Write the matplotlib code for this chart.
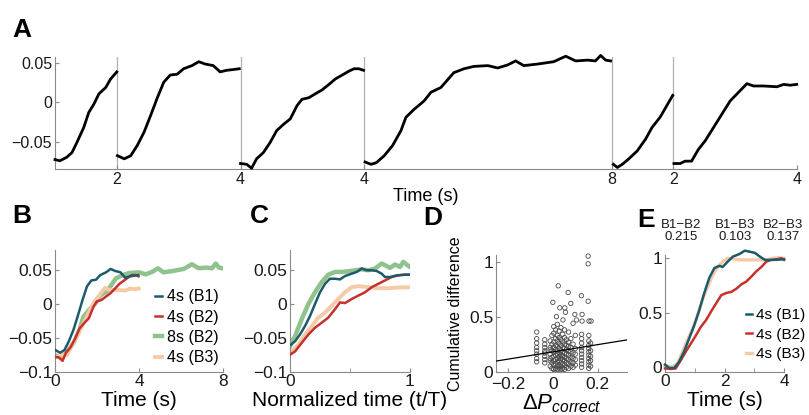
import numpy as np
import matplotlib
matplotlib.use('Agg')
import matplotlib.pyplot as plt

plt.rcParams['font.family'] = ['Liberation Sans', 'DejaVu Sans']
plt.rcParams['mathtext.fontset'] = 'custom'
plt.rcParams['mathtext.rm'] = 'Liberation Sans'
plt.rcParams['mathtext.it'] = 'Liberation Sans:italic'

# ---------------- data ----------------
# panel A / B : time courses per block and duration
b1_2s_t = [0, 0.16, 0.38, 0.55, 0.71, 0.93, 1.09, 1.26, 1.42, 1.64, 1.80, 2.0]
b1_2s_v = [-0.073, -0.0745, -0.070, -0.064, -0.051, -0.032, -0.013, -0.002, 0.011, 0.019, 0.030, 0.039]

b1_4s_t = [0.02, 0.24, 0.45, 0.66, 0.88, 1.09, 1.31, 1.52, 1.73, 1.95, 2.16, 2.43, 2.65, 2.86,
           3.12, 3.34, 3.55, 3.77, 3.96]
b1_4s_v = [-0.068, -0.072, -0.068, -0.055, -0.038, -0.017, 0.006, 0.026, 0.035, 0.036, 0.043,
           0.047, 0.052, 0.049, 0.047, 0.039, 0.041, 0.042, 0.043]

b2_4s_t = [0, 0.2, 0.36, 0.52, 0.74, 0.96, 1.17, 1.39, 1.61, 1.83, 1.99, 2.21, 2.42, 2.64, 2.86,
           3.07, 3.29, 3.51, 3.67, 3.83, 3.98]
b2_4s_v = [-0.078, -0.079, -0.084, -0.072, -0.064, -0.051, -0.036, -0.028, -0.021, -0.004, 0.004,
           0.006, 0.011, 0.016, 0.023, 0.030, 0.035, 0.040, 0.043, 0.043, 0.041]

b2_8s_t = [0.03, 0.22, 0.39, 0.65, 0.92, 1.19, 1.35, 1.61, 1.94, 2.16, 2.48, 2.90, 3.23, 3.55,
           4.0, 4.32, 4.65, 4.90, 5.16, 5.61, 6.13, 6.52, 6.84, 7.23, 7.48, 7.65, 7.81, 7.97]
b2_8s_v = [-0.076, -0.079, -0.077, -0.068, -0.055, -0.036, -0.019, -0.009, 0.002, 0.013, 0.019,
           0.038, 0.043, 0.046, 0.047, 0.044, 0.048, 0.053, 0.047, 0.049, 0.052, 0.059, 0.053,
           0.054, 0.053, 0.060, 0.054, 0.053]

b3_2s_t = [0.06, 0.19, 0.35, 0.56, 0.83, 1.10, 1.31, 1.57, 1.79, 1.98]
b3_2s_v = [-0.079, -0.083, -0.079, -0.072, -0.062, -0.047, -0.032, -0.019, -0.004, 0.009]

b3_4s_t = [0.02, 0.22, 0.38, 0.59, 0.81, 1.03, 1.30, 1.57, 1.84, 2.11, 2.38, 2.59, 2.92, 3.35,
           3.57, 3.78, 3.99]
b3_4s_v = [-0.078, -0.078, -0.075, -0.075, -0.060, -0.049, -0.032, -0.015, 0.002, 0.013, 0.024,
           0.021, 0.021, 0.020, 0.023, 0.022, 0.023]

durations = [2, 4, 4, 8, 2, 4]

# panel C : normalized time courses
c_b1_t = [0.008, 0.042, 0.083, 0.125, 0.167, 0.208, 0.25, 0.292, 0.333, 0.375, 0.417, 0.458,
          0.514, 0.556, 0.597, 0.639, 0.681, 0.722, 0.764, 0.792, 0.833, 0.889, 0.958, 0.992]
c_b1_v = [-0.06, -0.055, -0.045, -0.0325, -0.0175, 0, 0.0175, 0.03, 0.0375, 0.0375, 0.0365,
          0.0415, 0.045, 0.0475, 0.0525, 0.05, 0.05, 0.049, 0.045, 0.04, 0.04, 0.0425, 0.0435, 0.0435]
c_b2_8_t = [0, 0.042, 0.097, 0.153, 0.208, 0.264, 0.319, 0.375, 0.431, 0.486, 0.542, 0.597,
            0.653, 0.708, 0.764, 0.792, 0.833, 0.875, 0.917, 0.944, 0.972, 1.0]
c_b2_8_v = [-0.0625, -0.0475, -0.0225, 0, 0.0175, 0.0325, 0.0435, 0.0475, 0.0475, 0.0485, 0.05,
            0.0515, 0.05, 0.0525, 0.06, 0.0575, 0.0535, 0.0585, 0.055, 0.0625, 0.0585, 0.055]
c_b2_t = [0, 0.042, 0.097, 0.153, 0.208, 0.264, 0.319, 0.375, 0.417, 0.458, 0.514, 0.569, 0.625,
          0.681, 0.736, 0.792, 0.847, 0.903, 0.958, 1.0]
c_b2_v = [-0.075, -0.07, -0.0575, -0.045, -0.035, -0.0275, -0.02, -0.0075, 0.0025, 0.0015, 0.0075,
          0.0125, 0.0175, 0.025, 0.03, 0.035, 0.04, 0.0425, 0.0435, 0.0435]
c_b3_t = [0, 0.069, 0.125, 0.181, 0.236, 0.292, 0.347, 0.403, 0.458, 0.514, 0.569, 0.653, 0.736,
          0.819, 0.903, 1.0]
c_b3_v = [-0.0725, -0.06, -0.045, -0.0325, -0.02, -0.0125, -0.0025, 0.0075, 0.0175, 0.025, 0.0265,
          0.025, 0.0235, 0.0235, 0.0245, 0.025]

# panel D : scatter, grouped by columns of delta P
d_col_x = [-0.072, -0.036, -0.012, -0.004, 0.004, 0.012, 0.02, 0.028, 0.036, 0.044, 0.052,
           0.06, 0.07, 0.08, 0.09, 0.1, 0.128, 0.16, 0.168]
d_col_y = [
    [0.36, 0.30, 0.26, 0.22, 0.19, 0.16, 0.12, 0.09],
    [0.29, 0.25, 0.22, 0.19, 0.17, 0.14, 0.11, 0.08],
    [0.05, 0.1, 0.16, 0.22, 0.28, 0.2, 0.12],
    [0.03, 0.08, 0.13, 0.19, 0.25, 0.33],
    [0.02, 0.06, 0.1, 0.14, 0.18, 0.22, 0.27, 0.35, 0.41],
    [0.03, 0.07, 0.11, 0.15, 0.2, 0.24, 0.3, 0.38],
    [0.02, 0.05, 0.09, 0.12, 0.16, 0.19, 0.23, 0.28, 0.33, 0.43],
    [0.03, 0.06, 0.1, 0.14, 0.17, 0.21, 0.26, 0.31, 0.37],
    [0.02, 0.05, 0.08, 0.12, 0.15, 0.19, 0.24, 0.29, 0.4],
    [0.03, 0.07, 0.11, 0.14, 0.18, 0.22, 0.27, 0.34],
    [0.02, 0.06, 0.1, 0.13, 0.17, 0.21, 0.25, 0.31, 0.38],
    [0.04, 0.08, 0.12, 0.16, 0.2, 0.24, 0.29],
    [0.03, 0.07, 0.11, 0.15, 0.19, 0.23, 0.27, 0.36],
    [0.05, 0.09, 0.13, 0.18, 0.22, 0.3],
    [0.04, 0.08, 0.12, 0.17, 0.25],
    [0.06, 0.11, 0.16, 0.21, 0.33],
    [0.04, 0.07, 0.1, 0.13, 0.16, 0.19, 0.22, 0.26, 0.3, 0.34],
    [0.03, 0.06, 0.09, 0.12, 0.15, 0.18, 0.21, 0.24, 0.28, 0.33],
    [0.05, 0.1, 0.14, 0.19, 0.26],
]
d_out_x = [0.157, 0.157, 0.024, 0.068, 0.127, 0.0, 0.157, 0.031, 0.053, 0.08, 0.056, 0.098,
           0.13, 0.016, 0.161, 0.17, 0.13, 0.105, 0.045, 0.09]
d_out_y = [1.05, 0.98, 0.78, 0.72, 0.69, 0.63, 0.64, 0.58, 0.58, 0.62, 0.54, 0.52, 0.52, 0.50,
           0.46, 0.46, 0.46, 0.47, 0.47, 0.44]
d_fit = [0.33, 0.18]   # slope, intercept

# panel E : cumulative differences
e_b1_t = [0, 0.14, 0.31, 0.47, 0.64, 0.81, 0.98, 1.15, 1.32, 1.49, 1.66, 1.83, 1.94, 2.11, 2.28,
          2.51, 2.68, 2.85, 3.02, 3.19, 3.36, 3.64, 4.0]
e_b1_v = [0.02, -0.01, -0.01, 0.045, 0.14, 0.26, 0.38, 0.52, 0.68, 0.82, 0.91, 0.93, 0.92, 0.97,
          1.015, 1.04, 1.07, 1.06, 1.05, 1.015, 0.985, 0.985, 0.99]
e_b2_t = [0, 0.19, 0.36, 0.53, 0.7, 0.87, 1.04, 1.21, 1.38, 1.55, 1.72, 1.89, 2.06, 2.23, 2.4,
          2.57, 2.73, 2.9, 3.07, 3.24, 3.41, 3.58, 3.75, 3.92, 4.0]
e_b2_v = [-0.015, -0.02, -0.015, 0.06, 0.14, 0.215, 0.29, 0.37, 0.43, 0.51, 0.585, 0.66, 0.68,
          0.69, 0.72, 0.76, 0.785, 0.83, 0.88, 0.92, 0.97, 0.985, 0.99, 1.0, 0.985]
e_b3_t = [0, 0.25, 0.42, 0.59, 0.76, 0.93, 1.1, 1.27, 1.44, 1.61, 1.77, 1.94, 2.11, 2.28, 2.51,
          2.73, 2.96, 3.19, 3.41, 3.64, 3.81, 4.0]
e_b3_v = [0.01, 0, 0.03, 0.14, 0.25, 0.35, 0.48, 0.63, 0.74, 0.85, 0.92, 0.97, 1.0, 0.995, 0.985,
          0.985, 0.985, 0.985, 0.985, 1.0, 1.006, 1.0]
pair_names = ['B1\u2212B2', 'B1\u2212B3', 'B2\u2212B3']
pair_vals = ['0.215', '0.103', '0.137']

# ---------------- style ----------------
TEAL = '#1c5b6c'
RED = '#c8302c'
GREEN = '#8fc28c'
PEACH = '#f6caa6'
SPINE = '#8a8a8a'
W, H = 809, 415


def box(x0, y0, x1, y1):
    return [x0 / W, 1 - y1 / H, (x1 - x0) / W, (y1 - y0) / H]


def style(ax, fs=12):
    for s in ['top', 'right']:
        ax.spines[s].set_visible(False)
    for s in ['left', 'bottom']:
        ax.spines[s].set_color(SPINE)
        ax.spines[s].set_linewidth(0.8)
    ax.tick_params(direction='in', length=3, width=0.8, color=SPINE,
                   labelsize=fs, labelcolor='#1a1a1a', pad=2)
    ax.patch.set_alpha(0)


fig = plt.figure(figsize=(W / 100, H / 100), dpi=100)

# ---------------- A ----------------
axA = fig.add_axes(box(55, 57, 797, 169))
style(axA, 11.5)
segs = [(b1_2s_t, b1_2s_v), (b1_4s_t, b1_4s_v), (b2_4s_t, b2_4s_v),
        (b2_8s_t, b2_8s_v), (b3_2s_t, b3_2s_v), (b3_4s_t, b3_4s_v)]
edges = np.cumsum([0] + durations)
for (t, v), off in zip(segs, edges[:-1]):
    axA.plot(np.array(t) + off, v, color='k', lw=2.0, clip_on=False, zorder=3)
for e in edges[1:-1]:
    axA.axvline(e, color='#b0b0b0', lw=0.9, zorder=1)
axA.set_xlim(0, edges[-1])
axA.set_ylim(-0.085, 0.058)
axA.set_xticks(edges[1:])
axA.set_xticklabels([str(d) for d in durations])
axA.set_yticks([-0.05, 0, 0.05])
axA.set_yticklabels(['\u22120.05', '0', '0.05'])
axA.set_xlabel('Time (s)', fontsize=13, labelpad=1)

# ---------------- B ----------------
axB = fig.add_axes(box(55, 250, 223, 371.7))
style(axB, 12.5)
hB = []
hB.append(axB.plot(b1_4s_t, b1_4s_v, color=TEAL, lw=1.8, zorder=4)[0])
hB.append(axB.plot(b2_4s_t, b2_4s_v, color=RED, lw=1.8, zorder=3)[0])
hB.append(axB.plot(b2_8s_t, b2_8s_v, color=GREEN, lw=3.2, zorder=2)[0])
hB.append(axB.plot(b3_4s_t, b3_4s_v, color=PEACH, lw=2.8, zorder=2.5)[0])
axB.set_xlim(0, 8)
axB.set_ylim(-0.1, 0.08)
axB.set_xticks([0, 4, 8])
axB.set_yticks([-0.1, -0.05, 0, 0.05])
axB.set_yticklabels(['\u22120.1', '\u22120.05', '0', '0.05'])
axB.set_xlabel('Time (s)', fontsize=15, labelpad=1)
axB.legend(hB, ['4s (B1)', '4s (B2)', '8s (B2)', '4s (B3)'], loc='lower left',
           bbox_to_anchor=(0.56, 0.0), frameon=False, fontsize=11.5, handlelength=0.4,
           handletextpad=0.3, labelspacing=0.33, borderaxespad=0)

# ---------------- C ----------------
axC = fig.add_axes(box(290, 250, 410, 371.7))
style(axC, 12.5)
axC.plot(c_b2_8_t, c_b2_8_v, color=GREEN, lw=3.2, zorder=2)
axC.plot(c_b3_t, c_b3_v, color=PEACH, lw=2.8, zorder=2.5)
axC.plot(c_b2_t, c_b2_v, color=RED, lw=1.8, zorder=3)
axC.plot(c_b1_t, c_b1_v, color=TEAL, lw=1.8, zorder=4)
axC.set_xlim(0, 1)
axC.set_ylim(-0.1, 0.08)
axC.set_xticks([0, 1])
axC.set_xticks([0.5], minor=True)
axC.tick_params(which='minor', direction='in', length=3, color=SPINE)
axC.set_yticks([-0.1, -0.05, 0, 0.05])
axC.set_yticklabels(['\u22120.1', '\u22120.05', '0', '0.05'])
axC.set_xlabel('Normalized time (t/T)', fontsize=15, labelpad=1)

# ---------------- D ----------------
axD = fig.add_axes(box(496, 255, 627, 371.7))
style(axD, 12.5)
dx = [x for x, ys in zip(d_col_x, d_col_y) for _ in ys] + d_out_x
dy = [y for ys in d_col_y for y in ys] + d_out_y
axD.scatter(dx, dy, s=10, facecolors='none', edgecolors='#4a4a4a', linewidths=0.6,
            clip_on=False, zorder=2)
xl = np.array([-0.253, 0.33])
axD.plot(xl, d_fit[0] * xl + d_fit[1], color='k', lw=0.9, zorder=3)
axD.set_xlim(-0.253, 0.33)
axD.set_ylim(0, 1.06)
axD.set_xticks([-0.2, 0, 0.2])
axD.set_xticklabels(['\u22120.2', '0', '0.2'])
axD.tick_params(axis='x', pad=4)
axD.set_yticks([0, 0.5, 1])
axD.set_yticklabels(['0', '0.5', '1'])
axD.set_xlabel(r'$\Delta P_{correct}$', fontsize=16, labelpad=0)
axD.set_ylabel('Cumulative difference', fontsize=11.5, labelpad=4)

# ---------------- E ----------------
axE = fig.add_axes(box(665, 255, 784, 371.7))
style(axE, 12.5)
hE = []
hE.append(axE.plot(e_b1_t, e_b1_v, color=TEAL, lw=1.8, zorder=4, clip_on=False)[0])
hE.append(axE.plot(e_b2_t, e_b2_v, color=RED, lw=1.8, zorder=3, clip_on=False)[0])
hE.append(axE.plot(e_b3_t, e_b3_v, color=PEACH, lw=2.4, zorder=2.5, clip_on=False)[0])
axE.set_xlim(0, 4)
axE.set_ylim(-0.045, 1.03)
axE.set_xticks([0, 2, 4])
axE.set_xticks([1, 3], minor=True)
axE.tick_params(which='minor', direction='in', length=3, color=SPINE)
axE.set_yticks([0, 0.5, 1])
axE.set_yticklabels(['0', '0.5', '1'])
axE.set_xlabel('Time (s)', fontsize=15, labelpad=1)
axE.legend(hE, ['4s (B1)', '4s (B2)', '4s (B3)'], loc='lower left',
           bbox_to_anchor=(0.63, 0.04), frameon=False, fontsize=11, handlelength=0.4,
           handletextpad=0.25, labelspacing=0.35, borderaxespad=0)
for xpx, nm, vv in zip([681, 735, 783], pair_names, pair_vals):
    fig.text(xpx / W, 1 - 231 / H, nm + '\n' + vv, ha='center', va='center',
             fontsize=9.5, linespacing=1.0, color='#1a1a1a')

# ---------------- panel letters ----------------
for lab, xpx, ypx in [('A', 12, 30), ('B', 12, 216), ('C', 250, 216), ('D', 423, 218),
                      ('E', 637, 220)]:
    fig.text(xpx / W, 1 - ypx / H, lab, fontsize=19, fontweight='bold', ha='left', va='center')

fig.savefig('out.png', dpi=100)
